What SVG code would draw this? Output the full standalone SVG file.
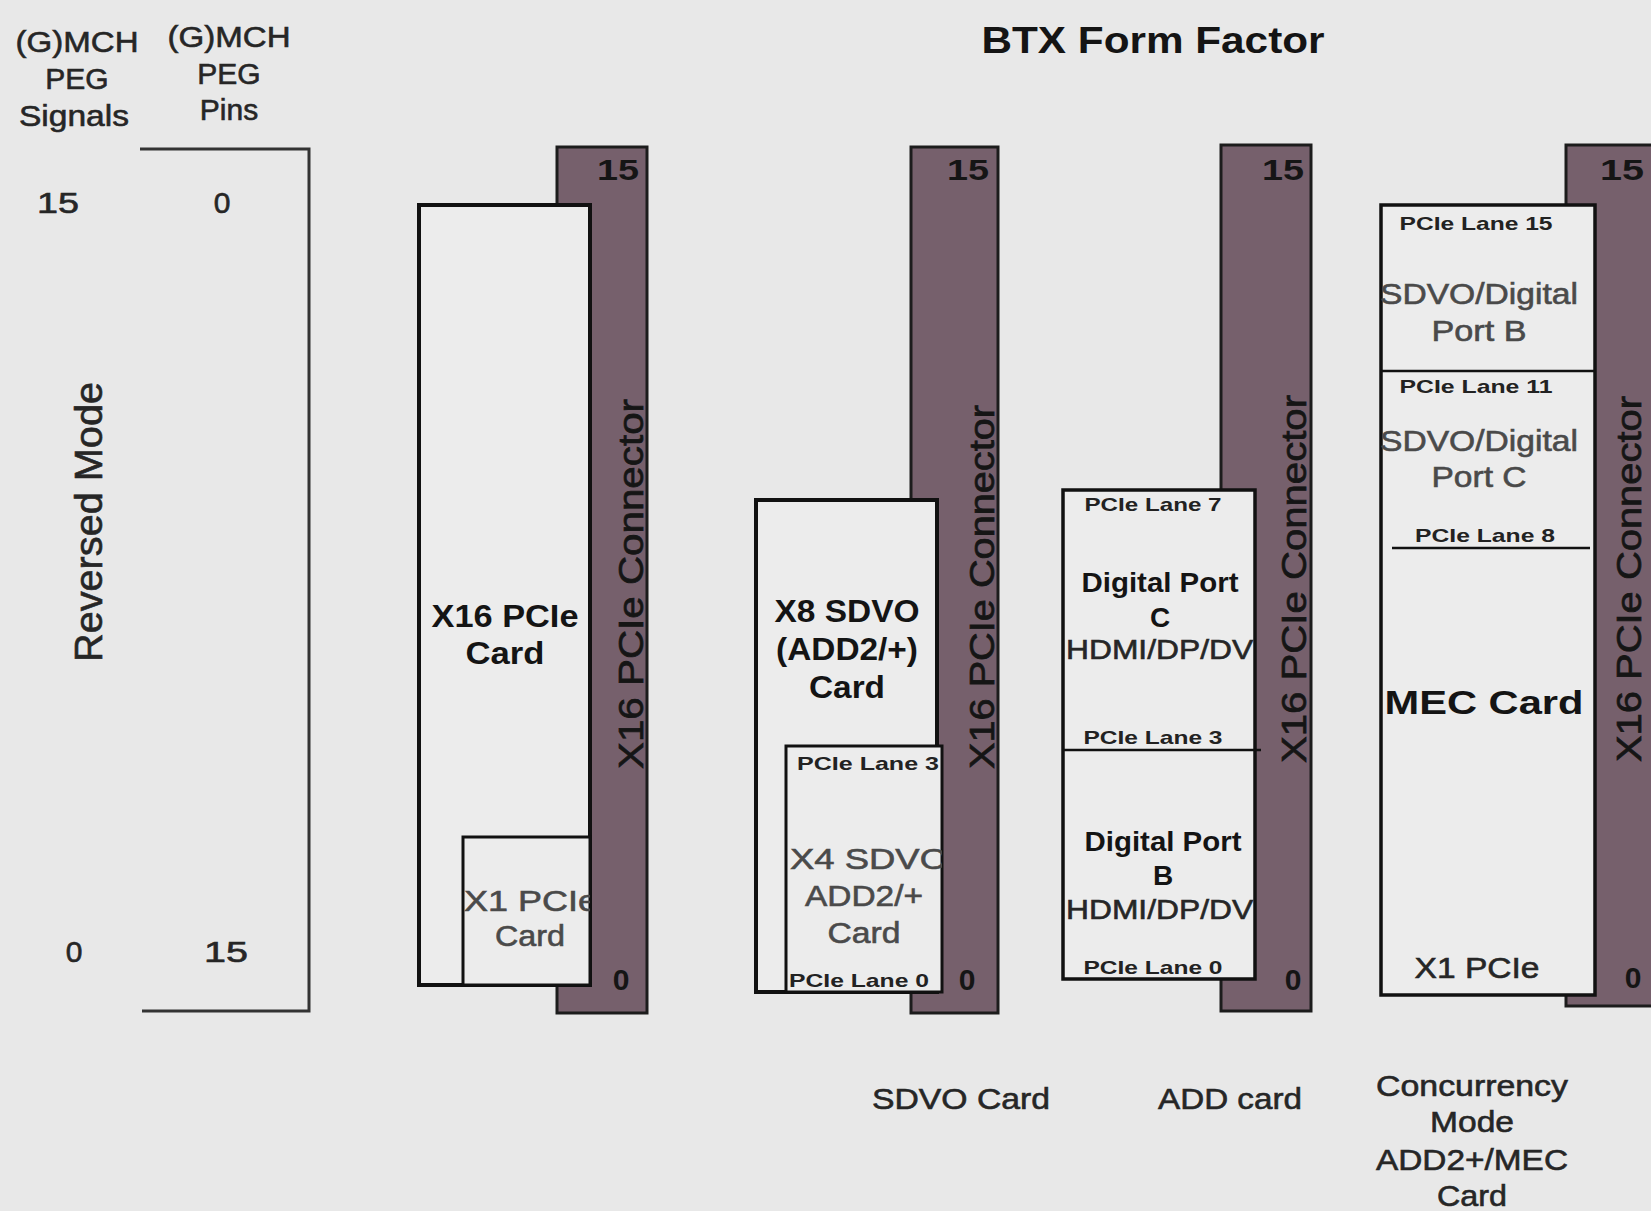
<svg xmlns="http://www.w3.org/2000/svg" width="1651" height="1211" viewBox="0 0 1651 1211">
<style>
text{font-family:"Liberation Sans",Arial,sans-serif;text-anchor:middle;fill:#262626}
.t{font-size:30px;stroke:#262626;stroke-width:0.6}
.g{fill:#4a4a4a;stroke:#4a4a4a}
.b{font-size:31px;font-weight:bold;fill:#141414}
.s{font-size:19px;font-weight:bold;fill:#222}
.n{font-size:30px;font-weight:bold;fill:#151515}
.cl{font-size:35px;fill:#151515;stroke:#151515;stroke-width:0.7}
.st{text-anchor:start}
.conn{fill:#76606c;stroke:#1c1c1c;stroke-width:3}
.card{fill:#ececec;stroke:#111;stroke-width:4}
.in{fill:#ececec;stroke:#111;stroke-width:3}
.ln{stroke:#111;stroke-width:2.5;fill:none}
.ax{stroke:#333;stroke-width:3;fill:none}
</style>
<defs>
<clipPath id="cp1"><rect x="463" y="837" width="127" height="148"/></clipPath>
<clipPath id="cp2"><rect x="786" y="746" width="156" height="246"/></clipPath>
<clipPath id="cp3"><rect x="1063" y="490" width="192" height="489"/></clipPath>
<clipPath id="cp4"><rect x="1381" y="205" width="214" height="790"/></clipPath>
</defs>
<rect width="1651" height="1211" fill="#e8e8e8"/>

<g id="title">
<text class="b" x="1153" y="53" style="font-size:36px" textLength="343" lengthAdjust="spacingAndGlyphs">BTX Form Factor</text>
</g>

<g id="pin-axis">
<text class="t" x="77" y="52" textLength="123" lengthAdjust="spacingAndGlyphs">(G)MCH</text>
<text class="t" x="77" y="89">PEG</text>
<text class="t" x="74" y="126" textLength="110" lengthAdjust="spacingAndGlyphs">Signals</text>
<text class="t" x="229" y="47" textLength="123" lengthAdjust="spacingAndGlyphs">(G)MCH</text>
<text class="t" x="229" y="84">PEG</text>
<text class="t" x="229" y="120">Pins</text>
<text class="t" x="58" y="213" textLength="42" lengthAdjust="spacingAndGlyphs">15</text>
<text class="t" x="222" y="213">0</text>
<text class="t" x="74" y="962">0</text>
<text class="t" x="226" y="962" textLength="44" lengthAdjust="spacingAndGlyphs">15</text>
<text class="t" transform="translate(102,522) rotate(-90)" style="font-size:38px" textLength="280" lengthAdjust="spacingAndGlyphs">Reversed Mode</text>
</g>

<g id="connectors">
<path class="ax" d="M140,149 H309 V1011 H142"/>
</g>

<g id="x16-connector-1">
<rect class="conn" x="557" y="147" width="90" height="866"/>
<text class="n" x="618" y="180" textLength="42" lengthAdjust="spacingAndGlyphs">15</text>
<text class="n" x="621" y="990">0</text>
<text class="cl" transform="translate(643,584) rotate(-90)" textLength="370" lengthAdjust="spacingAndGlyphs">X16 PCIe Connector</text>
</g>

<g id="x16-pcie-card">
<rect class="card" x="419" y="205" width="171" height="780"/>
<text class="b" x="505" y="627" textLength="147" lengthAdjust="spacingAndGlyphs">X16 PCIe</text>
<text class="b" x="505" y="664" textLength="79" lengthAdjust="spacingAndGlyphs">Card</text>
</g>

<g id="x1-pcie-card">
<rect class="in" x="463" y="837" width="127" height="148"/>
<g clip-path="url(#cp1)">
<text class="t g st" x="464" y="911" textLength="134" lengthAdjust="spacingAndGlyphs">X1 PCIe</text>
</g>
<text class="t g" x="530" y="946" textLength="70" lengthAdjust="spacingAndGlyphs">Card</text>
</g>

<g id="x16-connector-2">
<rect class="conn" x="911" y="147" width="87" height="866"/>
<text class="n" x="968" y="180" textLength="42" lengthAdjust="spacingAndGlyphs">15</text>
<text class="cl" transform="translate(994,587) rotate(-90)" textLength="364" lengthAdjust="spacingAndGlyphs">X16 PCIe Connector</text>
</g>

<g id="x8-sdvo-card">
<rect class="card" x="756" y="500" width="181" height="492"/>
<text class="b" x="847" y="622" textLength="145" lengthAdjust="spacingAndGlyphs">X8 SDVO</text>
<text class="b" x="847" y="660" textLength="142" lengthAdjust="spacingAndGlyphs">(ADD2/+)</text>
<text class="b" x="847" y="698" textLength="76" lengthAdjust="spacingAndGlyphs">Card</text>
</g>

<g id="x4-sdvo-card">
<rect class="in" x="786" y="746" width="156" height="246"/>
<g clip-path="url(#cp2)">
<text class="s st" x="797" y="770" textLength="142" lengthAdjust="spacingAndGlyphs">PCIe Lane 3</text>
<text class="t g st" x="790" y="869" textLength="158" lengthAdjust="spacingAndGlyphs">X4 SDVO</text>
<text class="s st" x="789" y="987" textLength="140" lengthAdjust="spacingAndGlyphs">PCIe Lane 0</text>
</g>
<text class="t g" x="864" y="906" textLength="118" lengthAdjust="spacingAndGlyphs">ADD2/+</text>
<text class="t g" x="864" y="943" textLength="73" lengthAdjust="spacingAndGlyphs">Card</text>
<text class="n" x="967" y="990">0</text>
</g>

<g id="x16-connector-3">
<rect class="conn" x="1221" y="145" width="90" height="866"/>
<text class="n" x="1283" y="180" textLength="42" lengthAdjust="spacingAndGlyphs">15</text>
<text class="n" x="1293" y="990">0</text>
<text class="cl" transform="translate(1306,579) rotate(-90)" textLength="368" lengthAdjust="spacingAndGlyphs">X16 PCIe Connector</text>
</g>

<g id="add-card">
<rect class="card" x="1063" y="490" width="192" height="489" style="stroke-width:3.5"/>
<line class="ln" x1="1063" y1="750" x2="1261" y2="750"/>
<g clip-path="url(#cp3)">
<text class="s" x="1153" y="511" textLength="137" lengthAdjust="spacingAndGlyphs">PCIe Lane 7</text>
<text class="b" x="1160" y="592" style="font-size:28px" textLength="157" lengthAdjust="spacingAndGlyphs">Digital Port</text>
<text class="b" x="1160" y="627" style="font-size:28px">C</text>
<text class="t st" x="1066" y="659" style="font-size:28px" textLength="196" lengthAdjust="spacingAndGlyphs">HDMI/DP/DVI</text>
<text class="s" x="1153" y="744" textLength="139" lengthAdjust="spacingAndGlyphs">PCIe Lane 3</text>
<text class="b" x="1163" y="851" style="font-size:28px" textLength="157" lengthAdjust="spacingAndGlyphs">Digital Port</text>
<text class="b" x="1163" y="885" style="font-size:28px">B</text>
<text class="t st" x="1066" y="919" style="font-size:28px" textLength="196" lengthAdjust="spacingAndGlyphs">HDMI/DP/DVI</text>
<text class="s" x="1153" y="974" textLength="139" lengthAdjust="spacingAndGlyphs">PCIe Lane 0</text>
</g>
</g>

<g id="x16-connector-4">
<rect class="conn" x="1566" y="145" width="95" height="861"/>
<text class="n" x="1622" y="180" textLength="44" lengthAdjust="spacingAndGlyphs">15</text>
<text class="n" x="1633" y="988">0</text>
<text class="cl" transform="translate(1641,579) rotate(-90)" textLength="366" lengthAdjust="spacingAndGlyphs">X16 PCIe Connector</text>
</g>

<g id="mec-card">
<rect class="card" x="1381" y="205" width="214" height="790" style="stroke-width:3.5"/>
<line class="ln" x1="1381" y1="371" x2="1595" y2="371"/>
<line class="ln" x1="1392" y1="548" x2="1590" y2="548"/>
<g clip-path="url(#cp4)">
<text class="s" x="1476" y="230" textLength="153" lengthAdjust="spacingAndGlyphs">PCIe Lane 15</text>
<text class="t g" x="1479" y="304" textLength="198" lengthAdjust="spacingAndGlyphs">SDVO/Digital</text>
<text class="t g" x="1479" y="341" textLength="95" lengthAdjust="spacingAndGlyphs">Port B</text>
<text class="s" x="1476" y="393" textLength="153" lengthAdjust="spacingAndGlyphs">PCIe Lane 11</text>
<text class="t g" x="1479" y="451" textLength="198" lengthAdjust="spacingAndGlyphs">SDVO/Digital</text>
<text class="t g" x="1479" y="487" textLength="95" lengthAdjust="spacingAndGlyphs">Port C</text>
<text class="s" x="1485" y="542" textLength="140" lengthAdjust="spacingAndGlyphs">PCIe Lane 8</text>
<text class="b" x="1484" y="714" style="font-size:34px" textLength="199" lengthAdjust="spacingAndGlyphs">MEC Card</text>
<text class="t" x="1477" y="978" textLength="125" lengthAdjust="spacingAndGlyphs">X1 PCIe</text>
</g>
</g>

<g id="captions">
<text class="t" x="961" y="1109" textLength="178" lengthAdjust="spacingAndGlyphs">SDVO Card</text>
<text class="t" x="1230" y="1109" textLength="144" lengthAdjust="spacingAndGlyphs">ADD card</text>
<text class="t" x="1472" y="1096" textLength="192" lengthAdjust="spacingAndGlyphs">Concurrency</text>
<text class="t" x="1472" y="1132" textLength="84" lengthAdjust="spacingAndGlyphs">Mode</text>
<text class="t" x="1472" y="1170" textLength="192" lengthAdjust="spacingAndGlyphs">ADD2+/MEC</text>
<text class="t" x="1472" y="1206" textLength="70" lengthAdjust="spacingAndGlyphs">Card</text>
</g>
</svg>
